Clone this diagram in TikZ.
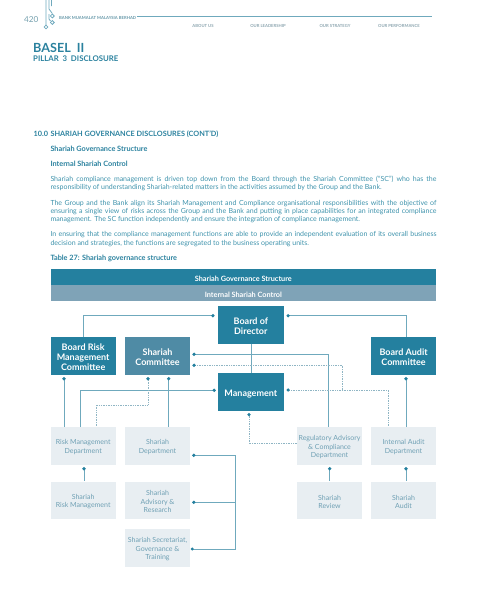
\documentclass[tikz,border=0pt]{standalone}
\usepackage{fontspec}
\setmainfont{Lato}
\usetikzlibrary{arrows.meta,calc}
\definecolor{teal1}{HTML}{24809F}
\definecolor{teal2}{HTML}{4F8BA5}
\definecolor{bar2}{HTML}{7FA3B7}
\definecolor{pale}{HTML}{E8EEF2}
\definecolor{linec}{HTML}{6FA9BD}
\definecolor{dotc}{HTML}{8FB5C4}
\definecolor{txt}{HTML}{3F93AC}
\definecolor{txtd}{HTML}{2A819E}
\definecolor{boxt}{HTML}{6FA0B4}
\definecolor{greyt}{HTML}{8CA5AF}
\newcommand{\upD}{\rule{0pt}{9.8pt}}
\newcommand{\upP}{\rule{0pt}{8pt}}
\tikzset{
 boxbase/.style={anchor=north west,inner sep=0pt,align=center,minimum width=65.3pt},
 darkbox/.style={boxbase,fill=teal1,text=white,font=\fontsize{9}{10.2}\selectfont\bfseries},
 midbox/.style={darkbox,fill=teal2},
 palebox/.style={boxbase,fill=pale,text=boxt,font=\fontsize{7}{8.5}\selectfont,minimum height=37.6pt},
 conn/.style={draw=linec,line width=1pt,{Circle[length=3.2pt,color=teal1]}-},
 plain/.style={draw=linec,line width=1pt},
 dots/.style={draw=dotc,line width=1pt,dash pattern=on 1pt off 0.7pt},
 dotsend/.style={dots,{Circle[length=3.2pt,color=teal1]}-},
 barbox/.style={anchor=north west,inner sep=0pt,minimum width=385.7pt,text=white,font=\fontsize{7.3}{8}\selectfont\bfseries,execute at begin node={\rule{0pt}{9.3pt}}},
 line/.style={anchor=west,inner sep=0pt,yshift=-0.8pt,text=txt,font=\fontsize{7}{8}\selectfont},
 head/.style={anchor=west,inner sep=0pt,yshift=-0.8pt,text=txtd,font=\fontsize{7.3}{8}\selectfont\bfseries},
 nav/.style={anchor=center,inner sep=0pt,text=greyt,font=\fontsize{4.2}{5}\selectfont\bfseries},
}
\newcommand{\fl}[1]{\makebox[386pt][s]{#1}}
\begin{document}
\begin{tikzpicture}[x=1pt,y=-1pt]
\useasboundingbox (0,0) rectangle (480,611);
% header
\node[anchor=west,inner sep=0pt,text=greyt!70!txt,font=\fontsize{8.2}{9}\selectfont] (pg) at (24,19.5) {420};
\draw[linec,line width=0.8pt] (46,0) -- (46,25) (49,0) -- (49,9) -- (52.3,13.5) (51.5,0) -- (51.5,6) (49,14) -- (49,19) -- (50.5,21);
\draw[linec,line width=0.8pt] (52.3,16) circle (1.9) (52.3,22.5) circle (1.9) (46,27) circle (1.9);
\node[anchor=west,inner sep=0pt,text=greyt!60!txtd,font=\fontsize{4.2}{5}\selectfont\bfseries] (bk) at (59,18) {BANK MUAMALAT MALAYSIA BERHAD};
\coordinate (ruleend) at (432,16);
\draw[linec,line width=0.8pt] (bk.east) ++(0.5,-2) -- (ruleend);
\node[nav] (n1) at (203,25.5) {ABOUT US};
\node[nav] (n2) at (268,25.5) {OUR LEADERSHIP};
\node[nav] (n3) at (335,25.5) {OUR STRATEGY};
\node[nav] (n4) at (399,25.5) {OUR PERFORMANCE};
\node[anchor=west,inner sep=0pt,text=txtd,font=\fontsize{12.6}{14}\selectfont\bfseries] (t1) at (33,48.4) {BASEL\ \ II};
\node[anchor=west,inner sep=0pt,text=txtd,font=\fontsize{7.8}{9}\selectfont\bfseries] (t2) at (33,58.7) {PILLAR\ \ 3\ \ DISCLOSURE};
% text
\node[head] (h0) at (33.5,133.3) {10.0};
\node[head] (h1) at (50.3,133.3) {SHARIAH GOVERNANCE DISCLOSURES (CONT’D)};
\node[head] (h2) at (50.3,148.3) {Shariah Governance Structure};
\node[head] (h3) at (50.3,163.3) {Internal Shariah Control};
\node[line] (a1) at (50.3,178.7) {\fl{Shariah compliance management is driven top down from the Board through the Shariah Committee (“SC”) who has the}};
\node[line] (a2) at (50.3,187) {responsibility of understanding Shariah-related matters in the activities assumed by the Group and the Bank.};
\node[line] (b1) at (50.3,202.3) {\fl{The Group and the Bank align its Shariah Management and Compliance organisational responsibilities with the objective of}};
\node[line] (b2) at (50.3,210.7) {\fl{ensuring a single view of risks across the Group and the Bank and putting in place capabilities for an integrated compliance}};
\node[line] (b3) at (50.3,219) {management. The SC function independently and ensure the integration of compliance management.};
\node[line] (c1) at (50.3,233.7) {\fl{In ensuring that the compliance management functions are able to provide an independent evaluation of its overall business}};
\node[line] (c2) at (50.3,242.3) {decision and strategies, the functions are segregated to the business operating units.};
\node[head] (h4) at (50.3,257.3) {Table 27: Shariah governance structure};
% bars
\node[barbox,fill=teal1,minimum height=16pt] (bar1) at (50.3,269) {Shariah Governance Structure};
\node[barbox,fill=bar2,minimum height=15.5pt] (bar2) at (50.3,285) {Internal Shariah Control};
% boxes
\node[darkbox,minimum height=37.6pt] (bod) at (218,305.7) {\upD Board of\\Director};
\node[darkbox,minimum height=37.6pt] (brmc) at (50.3,336.7) {\upD Board Risk\\Management\\Committee};
\node[midbox,minimum height=37.6pt] (sc) at (124.7,336.7) {\upD Shariah\\Committee};
\node[darkbox,minimum height=37.6pt] (bac) at (370.7,336.7) {\upD Board Audit\\Committee};
\node[darkbox,minimum height=37.6pt] (mgt) at (218,373) {\upD Management};
\node[palebox] (rmd) at (50.3,426.7) {\upP Risk Management\\Department};
\node[palebox] (sd) at (124.7,426.7) {\upP Shariah\\Department};
\node[palebox] (rac) at (296.7,426.7) {\upP Regulatory Advisory\\\& Compliance\\Department};
\node[palebox] (iad) at (370.7,426.7) {\upP Internal Audit\\Department};
\node[palebox] (srm) at (50.3,481.3) {\upP Shariah\\Risk Management};
\node[palebox] (sar) at (124.7,481.3) {\upP Shariah\\Advisory \&\\Research};
\node[palebox] (srv) at (296.7,481.3) {\upP Shariah\\Review};
\node[palebox] (sau) at (370.7,481.3) {\upP Shariah\\Audit};
\node[palebox] (ssg) at (124.7,529) {\upP Shariah Secretariat,\\Governance \&\\Training};
% dot ends
\coordinate (dBodL) at ($(bod.north west)+(-3.5,10)$);
\coordinate (dBodR) at ($(bod.north east)+(2.8,10)$);
\coordinate (dMgtL) at ($(mgt.north west)+(-2.2,17.3)$);
\coordinate (dMgtR) at ($(mgt.north east)+(2.8,17)$);
\coordinate (dMgtB) at ($(mgt.south west)+(31,2)$);
\coordinate (dScR1) at ($(sc.north east)+(2,17.6)$);
\coordinate (dScR2) at ($(sc.north east)+(2,28.6)$);
\coordinate (dScB1) at ($(sc.south west)+(23.3,2.4)$);
\coordinate (dScB2) at ($(sc.south west)+(44,2.4)$);
\coordinate (dBr) at ($(brmc.south west)+(13.7,2.4)$);
\coordinate (dBa) at ($(bac.south west)+(35.3,2.4)$);
\coordinate (dRm) at ($(rmd.south west)+(33.7,2.4)$);
\coordinate (dRa) at ($(rac.south west)+(33,2.4)$);
\coordinate (dIa) at ($(iad.south west)+(35.3,2.4)$);
\coordinate (dSd) at ($(sd.north east)+(1.8,28.6)$);
\coordinate (dSa) at ($(sar.north east)+(1.8,21)$);
\coordinate (dSs) at ($(ssg.north east)+(1.8,20)$);
% solid connectors
\draw[conn] (dBodL) -| (brmc.north -| 83.3,0);
\draw[conn] (dBodR) -| (bac.north -| 406,0);
\draw[plain] (bod.south -| 251.7,0) -- (mgt.north -| 251.7,0);
\draw[conn] (dScR1) -| (rac.north -| 328.7,0);
\draw[conn] (dBr) -- (rmd.north -| dBr);
\draw[conn] (dMgtL) -| (rmd.north -| 80,0);
\draw[conn] (dScB2) -- (sd.north -| dScB2);
\draw[conn] (dBa) -- (iad.north -| dBa);
\draw[conn] (dRm) -- (srm.north -| dRm);
\draw[conn] (dRa) -- (srv.north -| dRa);
\draw[conn] (dIa) -- (sau.north -| dIa);
\draw[conn] (dSd) -- (235.7,455.3) -- (235.7,549) -- (dSs);
\draw[conn] (dSa) -- (dSa -| 235.7,0);
\fill[teal1] (dSs) circle (1.6);
% dotted connectors
\draw[dotsend] (dScR2) -| (342.7,390);
\draw[dotsend] (dMgtR) -| (iad.north -| 388.3,0);
\draw[dotsend] (dScB1) |- (96.7,405) -- (rmd.north -| 96.7,0);
\draw[dotsend] (dMgtB) |- (rac.west |- 0,443.3);
\end{tikzpicture}
\end{document}
